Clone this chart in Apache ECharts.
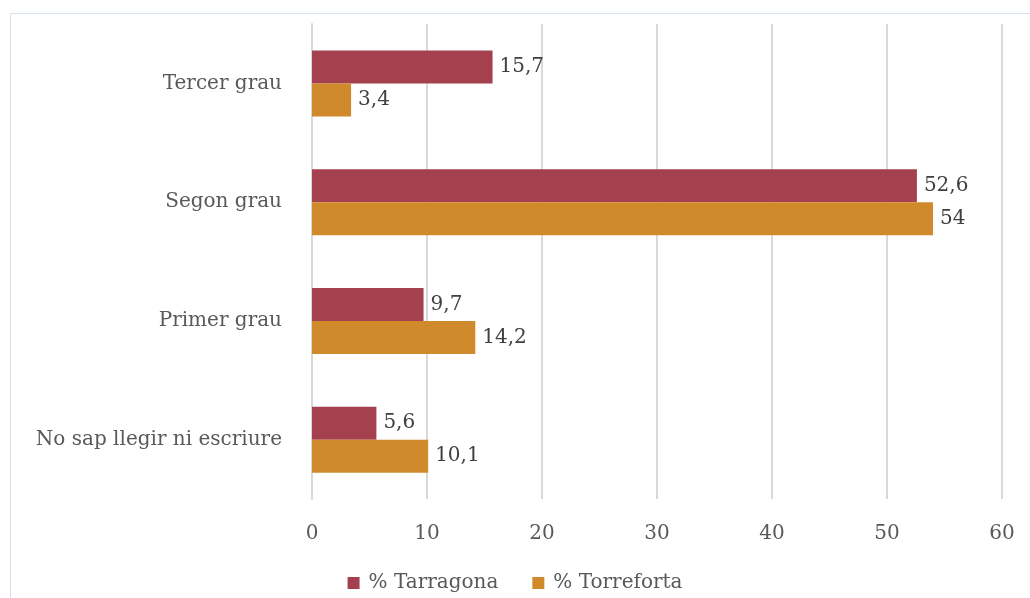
<!DOCTYPE html>
<html>
<head>
<meta charset="utf-8">
<script src="https://cdn.jsdelivr.net/npm/echarts@6/dist/echarts.min.js"></script>
<style>
html,body{margin:0;padding:0;background:#fff;}
#c{width:1030px;height:598px;}
</style>
</head>
<body>
<div id="c"></div>
<script>
const categories = ["No sap llegir ni escriure", "Primer grau", "Segon grau", "Tercer grau"];
const tarragona = [5.6, 9.7, 52.6, 15.7];
const torreforta = [10.1, 14.2, 54, 3.4];
const seriesNames = ["% Tarragona", "% Torreforta"];
const xTicks = {min: 0, max: 60, interval: 10};

const FONT = "DejaVu Serif";
const FS = 20;
const fmt = p => String(p.value).replace('.', ',');
const chart = echarts.init(document.getElementById('c'));
chart.setOption({
  animation: false,
  textStyle: {fontFamily: FONT},
  graphic: [{
    type: 'rect', shape: {x: 10.5, y: 13.5, width: 1040, height: 620},
    style: {fill: 'none', stroke: '#d6e0f3', lineWidth: 1}, silent: true
  }],
  grid: {left: 312, right: 28, top: 24, bottom: 99, containLabel: false},
  legend: {
    data: seriesNames, bottom: 0, left: 'center', itemWidth: 12, itemHeight: 12, itemGap: 34,
    icon: 'rect',
    textStyle: {fontFamily: FONT, fontSize: FS, color: '#595959', padding: [0, 0, 0, 4]}
  },
  xAxis: {
    type: 'value', min: xTicks.min, max: xTicks.max, interval: xTicks.interval,
    axisLine: {show: false}, axisTick: {show: false},
    splitLine: {lineStyle: {color: '#d9d9d9', width: 2}},
    axisLabel: {fontFamily: FONT, fontSize: FS, color: '#595959', margin: 25}
  },
  yAxis: {
    type: 'category', data: categories,
    axisLine: {show: true, lineStyle: {color: '#d9d9d9', width: 2}},
    axisTick: {show: false},
    axisLabel: {fontFamily: FONT, fontSize: FS, color: '#595959', margin: 30}
  },
  series: [
    {name: seriesNames[0], type: 'bar', data: tarragona, barWidth: 33, barGap: '0%',
     itemStyle: {color: '#A5404F'},
     label: {show: true, position: 'right', formatter: fmt, fontFamily: FONT, fontSize: FS, color: '#404040', distance: 7}},
    {name: seriesNames[1], type: 'bar', data: torreforta, barWidth: 33, barGap: '0%',
     itemStyle: {color: '#D08A2C'},
     label: {show: true, position: 'right', formatter: fmt, fontFamily: FONT, fontSize: FS, color: '#404040', distance: 7}}
  ]
});
</script>
</body>
</html>
